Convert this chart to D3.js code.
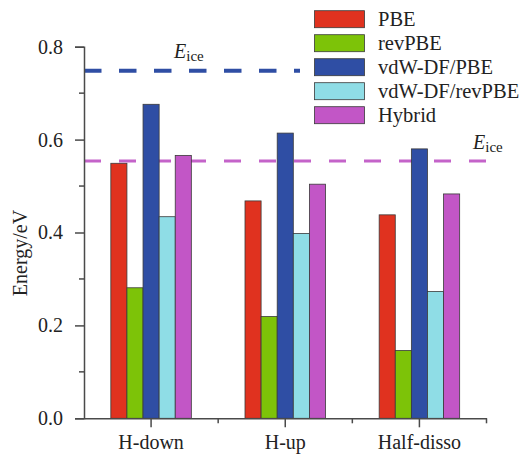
<!DOCTYPE html>
<html>
<head>
<meta charset="utf-8">
<script src="https://cdn.jsdelivr.net/npm/d3@7"></script>
<style>
  html, body { margin: 0; padding: 0; background: #fff; }
  svg { display: block; font-family: "Liberation Serif", "Times New Roman", serif; }
</style>
</head>
<body>
<svg id="chart" width="527" height="454"></svg>
<script>
// Adsorption energies per configuration and functional
const categories = ["H-down", "H-up", "Half-disso"];
const methods = ["PBE", "revPBE", "vdW-DF/PBE", "vdW-DF/revPBE", "Hybrid"];
const pbe        = [0.549, 0.468, 0.438];
const revpbe     = [0.281, 0.219, 0.146];
const vdwPbe     = [0.676, 0.614, 0.580];
const vdwRevpbe  = [0.434, 0.398, 0.273];
const hybrid     = [0.566, 0.504, 0.483];
const seriesValues = [pbe, revpbe, vdwPbe, vdwRevpbe, hybrid];
const colors = ["#e0321f", "#7dc308", "#2f4ea4", "#8fdde6", "#c256c6"];

// Ice cohesive energies (vdW-DF/PBE and Hybrid references)
const iceVdw = 0.748;
const iceHybrid = 0.554;

const yMajorTicks = [0.0, 0.2, 0.4, 0.6, 0.8];
const yMinorTicks = [0.1, 0.3, 0.5, 0.7];

const svg = d3.select("#chart");

const x = d3.scaleBand().domain(categories).range([84, 486.5]).padding(0);
const bw = x.bandwidth();
const xInner = d3.scaleBand().domain(methods).range([bw * 0.2, bw * 0.8]).padding(0);
const y = d3.scaleLinear().domain([0, 0.8]).range([418.3, 46.7]);

const axisColor = "#4a4a4a";
const textColor = "#222";

// Reference lines (behind bars)
svg.append("line")
  .attr("x1", x.range()[0]).attr("x2", 300)
  .attr("y1", y(iceVdw)).attr("y2", y(iceVdw))
  .attr("stroke", colors[2]).attr("stroke-width", 4)
  .attr("stroke-dasharray", "17.5,17.5");

svg.append("line")
  .attr("x1", x.range()[0]).attr("x2", x.range()[1])
  .attr("y1", y(iceHybrid)).attr("y2", y(iceHybrid))
  .attr("stroke", "#c463c9").attr("stroke-width", 3)
  .attr("stroke-dasharray", "17,18");

// Bars
const rows = [];
categories.forEach((c, i) => {
  methods.forEach((m, j) => rows.push({ c, m, j, v: seriesValues[j][i] }));
});

svg.append("g").selectAll("rect").data(rows).join("rect")
  .attr("x", d => x(d.c) + xInner(d.m))
  .attr("width", xInner.bandwidth())
  .attr("y", d => y(d.v))
  .attr("height", d => y(0) - y(d.v))
  .attr("fill", d => colors[d.j])
  .attr("stroke", "#3a3a3a")
  .attr("stroke-width", 0.8);

// Y axis
const yAxis = svg.append("g").attr("transform", `translate(${x.range()[0]},0)`)
  .call(d3.axisLeft(y).tickValues(yMajorTicks).tickFormat(d3.format(".1f")).tickSize(9).tickPadding(12));
yAxis.selectAll("g.minor").data(yMinorTicks).join("line")
  .attr("x1", -5).attr("x2", 0)
  .attr("y1", d => y(d)).attr("y2", d => y(d));

// X axis
const xAxis = svg.append("g").attr("transform", `translate(0,${y(0)})`)
  .call(d3.axisBottom(x).tickSize(9).tickSizeOuter(0).tickPadding(8));
xAxis.selectAll("g.minor").data(categories).join("line")
  .attr("x1", d => x(d) + bw).attr("x2", d => x(d) + bw)
  .attr("y1", 0).attr("y2", 5);

[yAxis, xAxis].forEach(g => {
  g.select(".domain").attr("stroke", axisColor).attr("stroke-width", 1.5);
  g.selectAll("line").attr("stroke", axisColor).attr("stroke-width", 1.5);
  g.selectAll("text")
    .attr("fill", textColor)
    .style("font-family", "'Liberation Serif', 'Times New Roman', serif")
    .style("font-size", "20px");
});
xAxis.selectAll(".tick text").attr("dy", "0.68em");

// Y axis title
svg.append("text")
  .attr("transform", "translate(26.5,253) rotate(-90)")
  .attr("text-anchor", "middle")
  .attr("fill", textColor)
  .style("font-size", "20px")
  .text("Energy/eV");

// E_ice labels
function iceLabel(px, py) {
  const t = svg.append("text").attr("x", px).attr("y", py).attr("fill", textColor);
  t.append("tspan").style("font-style", "italic").style("font-size", "20px").text("E");
  t.append("tspan").attr("dy", 3).style("font-size", "15px").text("ice");
}
iceLabel(174, 58);
iceLabel(473, 148.5);

// Legend
const legend = svg.append("g");
methods.forEach((m, j) => {
  const top = 10.7 + j * 24;
  legend.append("rect")
    .attr("x", 314.5).attr("y", top)
    .attr("width", 50).attr("height", 17)
    .attr("fill", colors[j])
    .attr("stroke", "#3a3a3a").attr("stroke-width", 0.8);
  legend.append("text")
    .attr("x", 378).attr("y", top + 15.3)
    .attr("fill", textColor)
    .style("font-size", "20.5px")
    .text(m);
});
</script>
</body>
</html>
